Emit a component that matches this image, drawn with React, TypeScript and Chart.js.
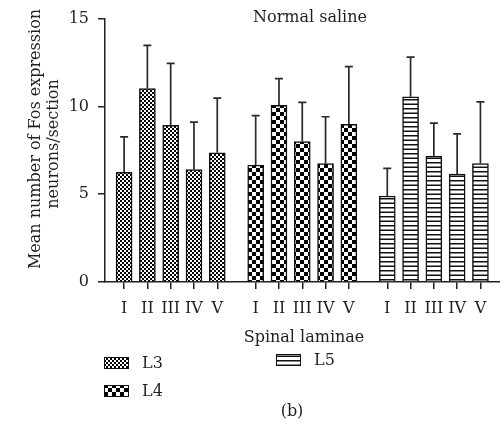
import React, { useEffect, useRef } from "react";
import { Chart, registerables } from "chart.js";

Chart.register(...registerables);

const laminae = ["I", "II", "III", "IV", "V"];
const groups = ["L3", "L4", "L5"];
const l3Mean = [6.24, 11.02, 8.92, 6.4, 7.36];
const l3Upper = [8.26, 13.47, 12.45, 9.11, 10.47];
const l4Mean = [6.66, 10.06, 8.0, 6.75, 8.98];
const l4Upper = [9.47, 11.58, 10.23, 9.41, 12.26];
const l5Mean = [4.9, 10.55, 7.17, 6.15, 6.75];
const l5Upper = [6.47, 12.81, 9.05, 8.43, 10.26];
const yTicks = [0, 5, 10, 15];

const FONT = "'DejaVu Serif', 'Liberation Serif', serif";
const INK = "#231f20";
const GROUP_STEP = 5.65;

function makePattern(kind: string): CanvasPattern | string {
  const c = document.createElement("canvas");
  const ctx = c.getContext("2d");
  if (!ctx) return "#888";
  if (kind === "L3") {
    c.width = 4; c.height = 4;
    ctx.fillStyle = "#fff"; ctx.fillRect(0, 0, 4, 4);
    ctx.fillStyle = "#000";
    ctx.fillRect(0, 0, 2, 2); ctx.fillRect(2, 2, 2, 2);
  } else if (kind === "L4") {
    c.width = 8; c.height = 8;
    ctx.fillStyle = "#fff"; ctx.fillRect(0, 0, 8, 8);
    ctx.fillStyle = "#000";
    ctx.fillRect(0, 0, 4, 4); ctx.fillRect(4, 4, 4, 4);
  } else {
    c.width = 4; c.height = 9;
    ctx.fillStyle = "#fff"; ctx.fillRect(0, 0, 4, 9);
    ctx.fillStyle = "#111";
    ctx.fillRect(0, 0, 4, 1.5); ctx.fillRect(0, 4.5, 4, 1.5);
  }
  const p = ctx.createPattern(c, "repeat");
  return p || "#888";
}

export default function App() {
  const ref = useRef<HTMLCanvasElement>(null);
  useEffect(() => {
    if (!ref.current) return;
    const means = [l3Mean, l4Mean, l5Mean];
    const uppers = [l3Upper, l4Upper, l5Upper];
    const positions: number[] = [];
    const tickLabels: string[] = [];
    groups.forEach((_, g) => laminae.forEach((lab, i) => { positions.push(g * GROUP_STEP + i); tickLabels.push(lab); }));
    const patterns = groups.map((g) => makePattern(g));

    const errorPlugin = {
      id: "errs",
      afterDatasetsDraw(chart: any) {
        const ctx = chart.ctx;
        const y = chart.scales.y;
        ctx.save();
        ctx.strokeStyle = "#2a2a2a";
        ctx.lineWidth = 1.7;
        chart.data.datasets.forEach((ds: any, di: number) => {
          const meta = chart.getDatasetMeta(di);
          meta.data.forEach((el: any, i: number) => {
            const top = y.getPixelForValue(uppers[di][i]);
            ctx.beginPath();
            ctx.moveTo(el.x, el.y);
            ctx.lineTo(el.x, top);
            ctx.moveTo(el.x - 4, top);
            ctx.lineTo(el.x + 4, top);
            ctx.stroke();
          });
        });
        ctx.restore();
      },
    };

    const textPlugin = {
      id: "texts",
      afterDraw(chart: any) {
        const ctx = chart.ctx;
        ctx.save();
        ctx.fillStyle = INK;
        ctx.font = `16px ${FONT}`;
        ctx.textAlign = "center";
        ctx.textBaseline = "middle";
        ctx.fillText("Normal saline", 310, 18);
        ctx.fillText("Spinal laminae", 304, 338);
        ctx.fillText("(b)", 292, 412);
        // y title
        ctx.save();
        ctx.rotate(-Math.PI / 2);
        ctx.textBaseline = "alphabetic";
        ctx.fillText("Mean number of Fos expression", -139, 40);
        ctx.fillText("neurons/section", -144, 58);
        ctx.restore();
        // legend
        const items = [
          { i: 0, x: 104, y: 363 },
          { i: 1, x: 104, y: 391 },
          { i: 2, x: 276, y: 360 },
        ];
        items.forEach((it) => {
          ctx.fillStyle = patterns[it.i] as any;
          ctx.fillRect(it.x, it.y - 6, 25, 12);
          ctx.strokeStyle = "#111";
          ctx.lineWidth = 1;
          ctx.strokeRect(it.x + 0.5, it.y - 5.5, 24, 11);
          ctx.fillStyle = INK;
          ctx.textAlign = "left";
          ctx.textBaseline = "middle";
          ctx.fillText(groups[it.i], it.x + 38, it.y + 1);
        });
        ctx.restore();
      },
    };

    const chart = new Chart(ref.current, {
      type: "bar",
      data: {
        datasets: groups.map((g, gi) => ({
          label: g,
          data: laminae.map((_, i) => ({ x: gi * GROUP_STEP + i, y: means[gi][i] })),
          backgroundColor: patterns[gi] as any,
          borderColor: "#111",
          borderWidth: 1.5,
          barThickness: 16,
          grouped: false,
        })),
      },
      options: {
        animation: false,
        responsive: false,
        devicePixelRatio: 1,
        layout: { padding: { top: 17, right: 0, left: 0, bottom: 0 } },
        plugins: { legend: { display: false }, tooltip: { enabled: false }, title: { display: false } },
        scales: {
          x: {
            type: "linear",
            min: -0.82,
            max: 16.14,
            offset: false,
            afterBuildTicks: (s: any) => { s.ticks = positions.map((v) => ({ value: v })); },
            afterFit: (s: any) => { s.height = 146; },
            ticks: {
              autoSkip: false,
              maxRotation: 0,
              padding: 10,
              color: INK,
              font: { family: FONT, size: 16 },
              callback: (_v: any, i: number) => tickLabels[i],
            },
            grid: { drawOnChartArea: false, drawTicks: true, tickLength: 7, color: INK, lineWidth: 1.5, offset: false },
            border: { display: true, color: INK, width: 1.5 },
          },
          y: {
            min: 0,
            max: 15,
            afterBuildTicks: (s: any) => { s.ticks = yTicks.map((v) => ({ value: v })); },
            afterFit: (s: any) => { s.width = 105; },
            ticks: { padding: 9, color: INK, font: { family: FONT, size: 16 } },
            grid: { drawOnChartArea: false, drawTicks: true, tickLength: 7, color: INK, lineWidth: 1.5 },
            border: { display: true, color: INK, width: 1.5 },
          },
        },
      } as any,
      plugins: [errorPlugin, textPlugin],
    });
    return () => chart.destroy();
  }, []);
  return (
    <div style={{ position: "absolute", left: 0, top: 0, width: 500, height: 428, background: "#fff" }}>
      <canvas ref={ref} width={500} height={428} style={{ width: 500, height: 428, display: "block" }} />
    </div>
  );
}
